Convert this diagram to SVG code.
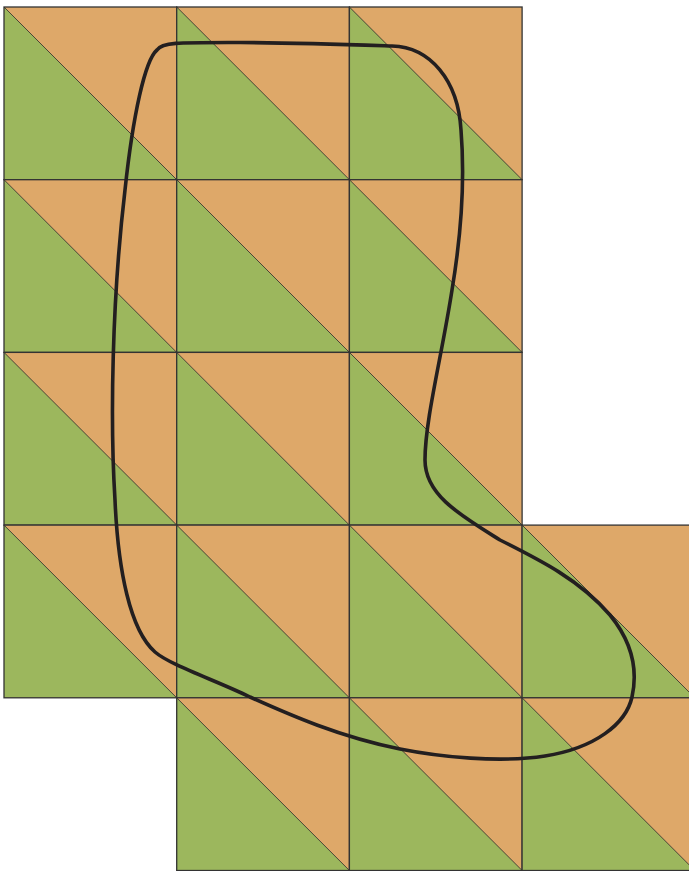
<svg xmlns="http://www.w3.org/2000/svg" xmlns:xlink="http://www.w3.org/1999/xlink" width="689" height="871" viewBox="0 0 689 871">
<style>
.o{fill:#DEA869}
.g{fill:#9CB75D}
.d{stroke:#2b2b2b;stroke-width:0.8;fill:none}
.b{stroke:#333;stroke-width:1.3;fill:none}
.curve{stroke:#231F20;stroke-width:3.6;fill:none;stroke-linejoin:round}
</style>
<defs>
<g id="tile">
<rect class="o" width="172.7" height="172.7"/>
<polygon class="g" points="0,0 0,172.7 172.7,172.7"/>
<line class="d" x1="0" y1="0" x2="172.7" y2="172.7"/>
<rect class="b" width="172.7" height="172.7"/>
</g>
</defs>
<rect width="689" height="871" fill="#fff"/>
<g id="tiles">
<use xlink:href="#tile" x="4" y="7"/>
<use xlink:href="#tile" x="176.7" y="7"/>
<use xlink:href="#tile" x="349.4" y="7"/>
<use xlink:href="#tile" x="4" y="179.7"/>
<use xlink:href="#tile" x="176.7" y="179.7"/>
<use xlink:href="#tile" x="349.4" y="179.7"/>
<use xlink:href="#tile" x="4" y="352.4"/>
<use xlink:href="#tile" x="176.7" y="352.4"/>
<use xlink:href="#tile" x="349.4" y="352.4"/>
<use xlink:href="#tile" x="4" y="525.1"/>
<use xlink:href="#tile" x="176.7" y="525.1"/>
<use xlink:href="#tile" x="349.4" y="525.1"/>
<use xlink:href="#tile" x="522.1" y="525.1"/>
<use xlink:href="#tile" x="176.7" y="697.8"/>
<use xlink:href="#tile" x="349.4" y="697.8"/>
<use xlink:href="#tile" x="522.1" y="697.8"/>
</g>
<g id="boundary">
<path class="curve" d="M157,50 C162,42 180,42.5 240,42.5 C300,43 360,45 392,46 C430,47 458,80 461,130 C465,180 462,230 452,290 C442,355 425,420 425,460 C425,495 460,515 500,540 C540,560 580,580 610,615 C632,642 638,670 632,697 C626,724 595,748 545,756 C500,763 440,757 400,749 C340,737 290,715 250,697 C215,680 170,665 155,652 C130,630 118,570 115,500 C110,420 112,300 125,190 C133,115 145,60 157,50 Z"/>
</g>
</svg>
